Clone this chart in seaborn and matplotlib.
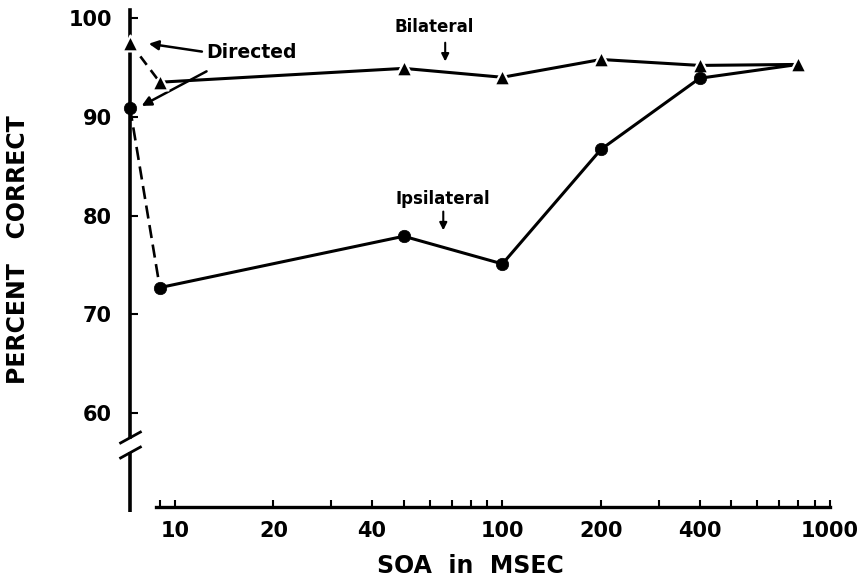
import numpy as np
import pandas as pd
import matplotlib
matplotlib.use("Agg")
import matplotlib.pyplot as plt
import seaborn as sns
from matplotlib.ticker import FixedLocator, NullFormatter

# Percent correct by stimulus onset asynchrony (ms)
soa_ms = [9, 50, 100, 200, 400, 800]
bilateral = [93.5, 94.9, 94.0, 95.8, 95.2, 95.3]
ipsilateral = [72.7, 77.9, 75.1, 86.7, 93.9, 95.3]

# Directed-attention condition (no SOA), shown on the y axis
directed_bilateral = 97.5
directed_ipsilateral = 90.9

x_ticks = [10, 20, 40, 100, 200, 400, 1000]
y_ticks = [60, 70, 80, 90, 100]

# layout constants
DIRECTED_POS = 7.3      # x position of the directed column (left edge)
X_AXIS_START = 8.75
Y_MIN, Y_MAX = 50, 100.8

sns.set_style("white")
plt.rcParams.update({
    "font.family": ["DejaVu Sans"],
    "font.weight": "bold",
    "text.color": "black",
    "axes.labelcolor": "black",
    "axes.edgecolor": "black",
    "xtick.color": "black",
    "ytick.color": "black",
    "xtick.bottom": True,
    "ytick.left": True,
})

fig = plt.figure(figsize=(8.68, 5.85), dpi=100)
ax = fig.add_axes([0.1498, 0.1252, 0.8064, 0.8575])
ax.set_xscale("log")
ax.set_xlim(DIRECTED_POS, 1000)
ax.set_ylim(Y_MIN, Y_MAX)

lines = pd.DataFrame({
    "soa": soa_ms * 2,
    "pct": bilateral + ipsilateral,
    "cond": ["Bilateral"] * len(soa_ms) + ["Ipsilateral"] * len(soa_ms),
})
sns.lineplot(data=lines, x="soa", y="pct", hue="cond",
             palette={"Bilateral": "black", "Ipsilateral": "black"},
             lw=2.2, legend=False, ax=ax, zorder=2)

# dashed links from the directed condition to the shortest SOA
directed = pd.DataFrame({
    "soa": [DIRECTED_POS, soa_ms[0], DIRECTED_POS, soa_ms[0]],
    "pct": [directed_bilateral, bilateral[0], directed_ipsilateral, ipsilateral[0]],
    "cond": ["Bilateral", "Bilateral", "Ipsilateral", "Ipsilateral"],
})
for cond, dash in (("Bilateral", (4, 2.5)), ("Ipsilateral", (5, 2.5))):
    sub = directed[directed["cond"] == cond]
    sns.lineplot(data=sub, x="soa", y="pct", color="black", lw=1.9,
                 ax=ax, legend=False, zorder=2).lines[-1].set_dashes(dash)

tri = pd.DataFrame({"soa": [DIRECTED_POS] + soa_ms,
                    "pct": [directed_bilateral] + bilateral})
dots = pd.DataFrame({"soa": [DIRECTED_POS] + soa_ms[:-1],
                     "pct": [directed_ipsilateral] + ipsilateral[:-1]})
sns.scatterplot(data=tri, x="soa", y="pct", marker="^", s=130, color="black",
                edgecolor="white", linewidth=1.6, ax=ax, zorder=4, clip_on=False)
sns.scatterplot(data=dots, x="soa", y="pct", marker="o", s=80, color="black",
                edgecolor="black", linewidth=0.5, ax=ax, zorder=4, clip_on=False)

# axes: broken y axis, detached x axis
for side in ("top", "right"):
    ax.spines[side].set_visible(False)
ax.spines["left"].set_linewidth(2.6)
ax.spines["left"].set_bounds(57.6, Y_MAX)
ax.spines["bottom"].set_linewidth(2.4)
ax.spines["bottom"].set_position(("data", 50.5))
ax.spines["bottom"].set_bounds(X_AXIS_START, 1000)
ax.plot([DIRECTED_POS, DIRECTED_POS], [Y_MIN, 56.1], color="black", lw=2.6,
        solid_capstyle="butt", clip_on=False, zorder=3)
slash = [(-1, -0.55), (1, 0.55)]
for yb in (57.6, 56.1):
    ax.plot([DIRECTED_POS], [yb], marker=slash, ms=16, mew=2.0, color="black",
            clip_on=False, zorder=3)

ax.set_xticks(x_ticks)
ax.set_xticklabels([str(t) for t in x_ticks])
minor = [s * 10 ** d for d in (0, 1, 2) for s in range(2, 10)
         if X_AXIS_START <= s * 10 ** d <= 1000 and s * 10 ** d not in x_ticks]
ax.xaxis.set_minor_locator(FixedLocator(minor))
ax.xaxis.set_minor_formatter(NullFormatter())
ax.set_yticks(y_ticks)
ax.set_yticklabels([str(t) for t in y_ticks])
ax.tick_params(axis="x", which="both", direction="in", length=5, width=1.5,
               labelsize=15, pad=10, bottom=True)
ax.tick_params(axis="y", which="both", direction="in", length=6, width=1.5,
               labelsize=15, pad=13, left=True)
for lab in ax.get_xticklabels() + ax.get_yticklabels():
    lab.set_fontweight("heavy")
ax.set_xlabel("")
ax.set_ylabel("")

fig.text(470 / 868, 1 - 566 / 585, "SOA  in  MSEC", ha="center", va="center",
         fontsize=17, fontweight="heavy")
fig.text(18 / 868, 1 - 250 / 585, "PERCENT   CORRECT", ha="center", va="center",
         rotation=90, fontsize=17, fontweight="heavy")

# annotations
ax.text(17.2, 96.5, "Directed", ha="center", va="center", fontsize=13.5,
        fontweight="bold")
arrow = dict(arrowstyle="-|>", lw=1.8, color="black", mutation_scale=14,
             shrinkA=0, shrinkB=0)
ax.annotate("", xy=(8.33, 97.4), xytext=(12.1, 96.6), arrowprops=arrow)
ax.annotate("", xy=(7.92, 91.1), xytext=(12.5, 94.6), arrowprops=arrow)

ax.text(61.9, 99.1, "Bilateral", ha="center", va="center", fontsize=12,
        fontweight="bold")
ax.annotate("", xy=(66.9, 95.6), xytext=(66.9, 97.5),
            arrowprops=dict(arrowstyle="-|>", lw=1.5, color="black",
                            mutation_scale=11, shrinkA=0, shrinkB=0))
ax.text(65.6, 81.7, "Ipsilateral", ha="center", va="center", fontsize=12,
        fontweight="bold")
ax.annotate("", xy=(66.0, 78.5), xytext=(66.0, 80.4),
            arrowprops=dict(arrowstyle="-|>", lw=1.5, color="black",
                            mutation_scale=11, shrinkA=0, shrinkB=0))

fig.savefig("out.png", dpi=100, facecolor="white")
